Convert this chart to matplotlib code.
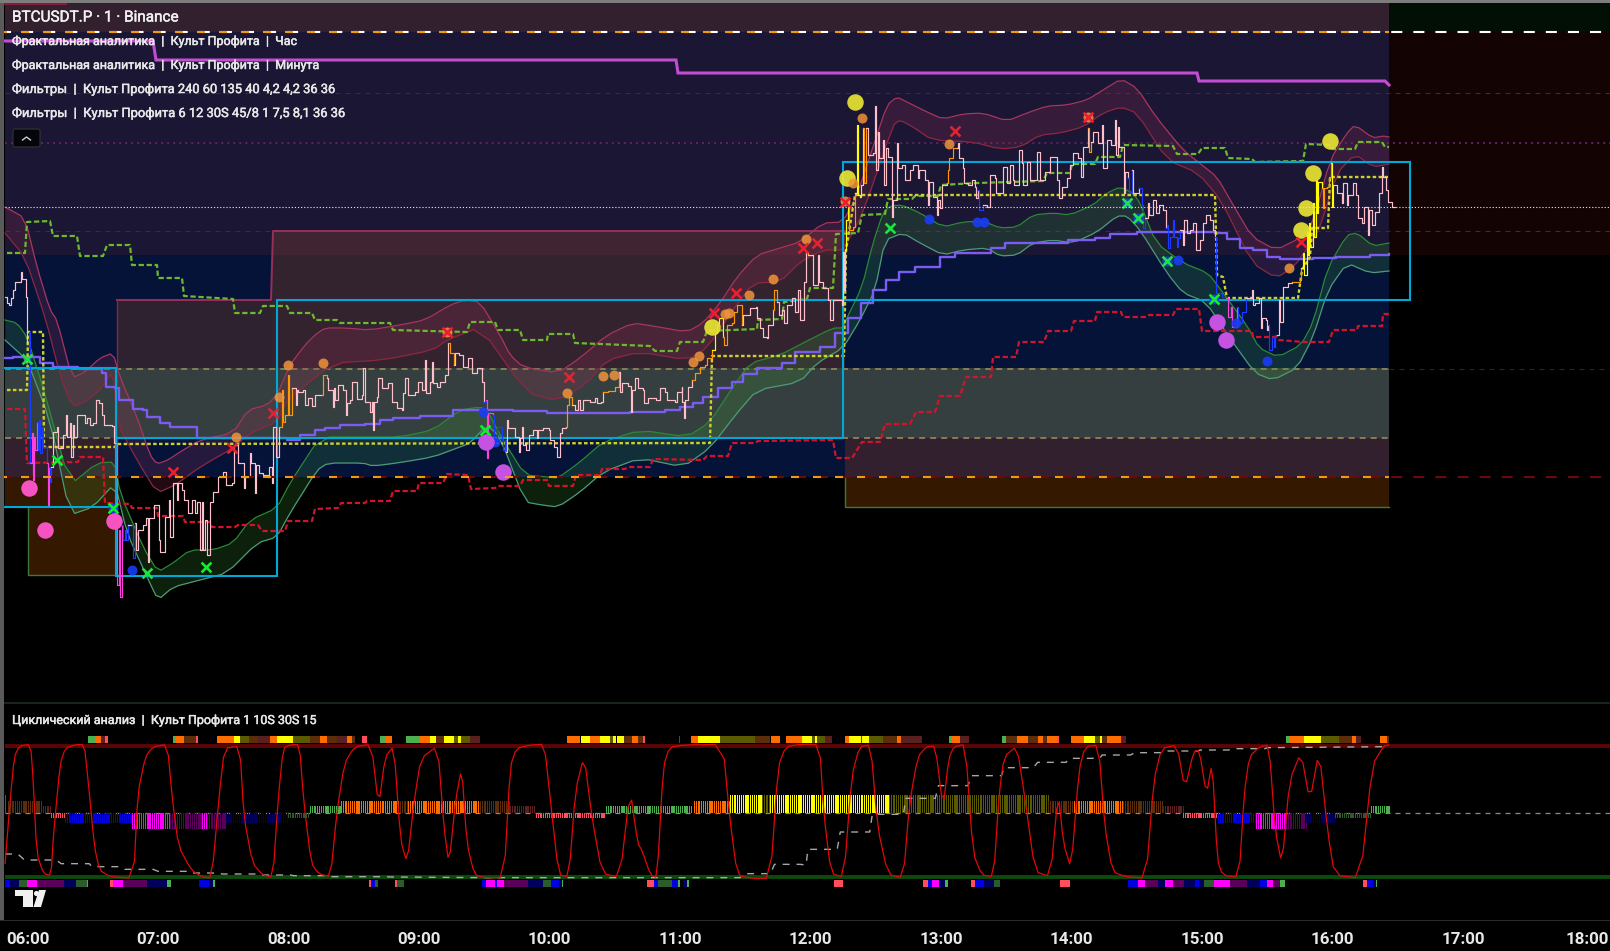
import numpy as np
import matplotlib
matplotlib.use("Agg")
import matplotlib.pyplot as plt
import matplotlib.patheffects as pe
from matplotlib.patches import Rectangle, Polygon, FancyBboxPatch

# ---------------- text ----------------
title = "BTCUSDT.P · 1 · Binance"
legend_lines = ["Фрактальная аналитика  |  Культ Профита  |  Час",
                "Фрактальная аналитика  |  Культ Профита  |  Минута",
                "Фильтры  |  Культ Профита 240 60 135 40 4,2 4,2 36 36",
                "Фильтры  |  Культ Профита 6 12 30S 45/8 1 7,5 8,1 36 36"]
osc_title = "Циклический анализ  |  Культ Профита 1 10S 30S 15"
hour_labels = ["06:00", "07:00", "08:00", "09:00", "10:00", "11:00", "12:00",
               "13:00", "14:00", "15:00", "16:00", "17:00", "18:00"]
hour_pos = [27.5, 158, 288.5, 419, 549.5, 680, 810.5, 941, 1071.5, 1202, 1332.5, 1463, 1587]

# ---------------- background zones: x0, x1, y0, y1, colour ----------------
zones = [(5, 1389, 3, 32, '#33202f'), (5, 1389, 32, 255, '#1a1633'), (5, 1389, 255, 477, '#061338'),
         (117, 272, 300, 368, '#2f2230'), (272, 845, 255, 368, '#33232f'), (272, 845, 231, 255, '#402432'),
         (5, 1389, 368, 438, '#363f3f'),
         (5, 117, 438, 477, '#33202f'), (845, 1389, 438, 477, '#33202f'),
         (5, 117, 477, 507, '#351800'), (845, 1389, 477, 507, '#351800'), (28, 117, 507, 575, '#351800'),
         (1389, 1610, 3, 32, '#020f05'), (1389, 1610, 32, 255, '#140303')]

cyan_boxes = [(3, 116, 368, 507), (116, 277, 438, 576), (277, 843, 300, 438), (843, 1410, 162, 300)]

# ---------------- slow lines ----------------
hour_line_x = [5, 153, 156, 676, 678, 1197, 1199, 1385, 1389]
hour_line_y = [41, 41, 60, 60, 73, 73, 81, 81, 85]

upper_top = [(5,207),(25,218),(37,267),(50,310),(57,320),(72,378),(85,372),(100,358),(113,353),(120,377),(137,417),(150,455),(157,464),(168,460),(180,452),(200,440),(233,433),(248,410),(267,405),(277,395),(290,365),(305,345),(315,335),(325,328),(345,328),(370,330),(400,325),(425,320),(450,305),(465,300),(480,302),(500,335),(510,355),(523,367),(558,373),(580,358),(607,335),(633,323),(653,326),(687,332),(703,323),(720,303),(737,277),(757,255),(780,248),(800,242),(823,223),(843,222),(857,195),(872,150),(887,105),(897,97),(907,102),(927,112),(943,119),(963,114),(983,113),(1007,121),(1027,113),(1047,106),(1067,105),(1087,100),(1103,90),(1121,79),(1137,88),(1156,117),(1183,150),(1202,165),(1217,177),(1232,203),(1252,237),(1276,250),(1300,238),(1313,223),(1330,160),(1347,133),(1355,125),(1373,138),(1383,136),(1389,137)]
upper_bot = [(5,233),(25,257),(46,320),(60,375),(72,407),(85,402),(100,390),(113,370),(117,423),(137,460),(157,493),(175,485),(200,467),(233,448),(250,433),(277,422),(287,400),(333,363),(383,360),(433,350),(447,340),(480,327),(527,393),(558,401),(587,383),(607,360),(640,352),(687,360),(707,348),(733,310),(753,283),(780,282),(800,262),(823,250),(843,250),(847,243),(863,213),(893,125),(900,120),(913,127),(932,140),(973,142),(1000,149),(1020,147),(1040,135),(1060,133),(1083,127),(1103,113),(1121,107),(1137,113),(1167,160),(1198,173),(1221,200),(1252,263),(1276,278),(1294,267),(1313,240),(1320,227),(1337,173),(1355,154),(1373,167),(1389,164)]
lower_top = [(5,320),(17,323),(27,337),(43,387),(70,485),(97,463),(115,462),(120,493),(143,547),(158,572),(173,563),(190,550),(213,550),(233,543),(250,520),(277,508),(290,483),(320,437),(367,437),(400,437),(433,430),(460,410),(480,407),(487,410),(503,440),(525,475),(547,477),(558,478),(580,462),(603,442),(640,430),(687,437),(710,422),(733,387),(750,363),(780,355),(805,342),(833,328),(843,328),(846,320),(862,287),(873,243),(883,213),(890,206),(902,205),(920,213),(943,227),(963,222),(983,221),(1000,228),(1017,227),(1033,215),(1053,213),(1070,215),(1093,205),(1107,193),(1120,187),(1133,193),(1140,203),(1156,243),(1183,263),(1208,273),(1221,290),(1248,327),(1259,348),(1278,357),(1301,345),(1313,323),(1328,267),(1347,235),(1357,233),(1373,246),(1389,243)]
lower_bot = [(5,340),(27,360),(50,420),(70,515),(93,507),(115,483),(127,533),(147,577),(158,600),(173,587),(200,580),(227,573),(257,543),(277,537),(290,513),(317,470),(328,463),(363,463),(373,466),(397,463),(433,457),(460,447),(470,443),(487,425),(500,437),(525,502),(542,505),(558,507),(580,492),(603,472),(640,458),(683,467),(710,448),(737,413),(757,390),(800,382),(817,363),(843,348),(860,320),(875,290),(885,240),(903,233),(920,243),(943,255),(963,250),(987,248),(1000,256),(1017,255),(1033,243),(1053,240),(1073,243),(1097,232),(1117,216),(1127,216),(1140,230),(1167,273),(1183,293),(1206,302),(1229,337),(1255,373),(1273,380),(1297,368),(1313,337),(1328,290),(1347,263),(1370,273),(1389,271)]

purple_line = [(5,358),(13,357),(40,363),(53,367),(78,369),(102,373),(106,387),(115,388),(119,400),(133,409),(143,410),(147,417),(157,417),(160,423),(170,427),(183,427),(197,438),(287,440),(300,435),(315,430),(325,428),(340,425),(365,424),(380,420),(393,418),(420,416),(453,410),(480,410),(513,411),(547,413),(580,413),(630,412),(665,410),(680,407),(693,403),(703,397),(718,388),(732,382),(743,374),(757,368),(782,363),(795,352),(820,347),(835,333),(848,318),(861,303),(873,290),(886,280),(899,272),(915,267),(940,257),(955,253),(991,248),(1005,243),(1068,240),(1095,238),(1110,234),(1137,232),(1215,233),(1227,239),(1240,248),(1253,250),(1267,257),(1280,259),(1313,258),(1336,257),(1370,255),(1389,254)]

green_dash = [(7,253),(25,253),(27,222),(50,221),(53,236),(77,236),(80,256),(103,256),(107,245),(130,245),(132,265),(157,265),(158,278),(182,278),(184,296),(233,299),(235,313),(260,313),(263,306),(287,306),(290,313),(312,313),(315,320),(337,320),(340,323),(390,323),(393,330),(467,332),(470,322),(495,322),(498,330),(520,330),(523,340),(547,340),(548,334),(573,334),(575,343),(650,346),(655,351),(677,351),(680,342),(703,342),(707,331),(757,329),(758,320),(782,319),(784,302),(807,299),(810,288),(833,288),(836,234),(858,233),(862,215),(885,214),(888,199),(912,199),(915,196),(938,196),(941,185),(977,183),(1043,181),(1047,173),(1070,173),(1072,164),(1095,164),(1098,157),(1120,157),(1123,145),(1173,146),(1177,154),(1198,154),(1202,148),(1225,148),(1228,158),(1252,159),(1255,162),(1303,161),(1306,144),(1330,145),(1333,149),(1355,149),(1358,142),(1382,142),(1385,147),(1389,147)]
yellow_dash = [(7,390),(27,390),(28,332),(43,332),(44,447),(115,447),(117,444),(710,443),(712,356),(844,356),(846,250),(855,195),(1215,195),(1217,275),(1223,277),(1227,298),(1298,298),(1302,270),(1310,257),(1312,228),(1328,228),(1330,177),(1389,177)]
red_dash = [(7,409),(25,409),(27,463),(78,462),(80,457),(103,457),(105,503),(130,504),(132,508),(157,508),(158,516),(183,516),(185,522),(210,522),(212,527),(235,527),(238,525),(258,525),(262,531),(285,531),(288,521),(312,521),(315,509),(338,508),(341,503),(365,503),(367,501),(390,501),(393,491),(417,491),(419,483),(443,483),(447,474),(468,475),(471,489),(495,488),(498,486),(520,486),(523,480),(547,480),(549,486),(573,486),(576,475),(600,475),(602,469),(625,469),(628,467),(650,467),(653,459),(703,460),(707,456),(728,456),(732,443),(755,443),(758,441),(833,440),(836,458),(852,458),(862,442),(880,442),(885,424),(910,424),(916,412),(935,412),(940,396),(960,396),(966,377),(991,377),(993,357),(1016,357),(1019,342),(1044,342),(1048,331),(1071,331),(1074,321),(1095,321),(1097,312),(1121,312),(1123,317),(1146,317),(1149,315),(1173,315),(1176,309),(1199,309),(1202,331),(1252,331),(1253,337),(1277,337),(1279,340),(1303,342),(1329,342),(1333,330),(1357,330),(1358,326),(1382,326),(1383,314),(1389,314)]

# ---------------- price path ----------------
price_pts = [(5,297),(7,303),(9,305),(11,298),(13,290),(15,282),(17,282),(21,272),(22,279),(25,279),(26,297),(27,345),(29,332),(30,463),(32,433),(32.5,480),(34,437),(34.5,450),(37,422),(37.5,450),(39,420),(39.5,453),(42,427),(42.5,447),(44,447),(47,463),(47.5,505),(49,467),(49.5,482),(51,467),(53,432),(57,427),(57.5,448),(60,448),(63,435),(66,415),(66.5,437),(70,423),(70.5,457),(73,425),(73.5,437),(77,415),(83,415),(85,423),(87,418),(90,425),(93,423),(96,400),(99,403),(102,415),(104,425),(112,426),(114,443),
(116,443),(116.5,585),(119,530),(119.5,597),(122,525),(122.5,540),(125,530),(125.5,540),(128,525),(132,525),(132.5,558),(135,523),(135.5,550),(138,530),(143,525),(146,518),(148,562),(148.5,518),(150,518),(154,505),(157,505),(159,540),(160,552),(165,517),(169,500),(169.5,537),(173,483),(177,500),(178,483),(182,490),(184,500),(188,513),(192,500),(195,513),(197,502),(200,550),(202,502),(202.5,550),(205,520),(207,555),(210,502),(213,492),(218,477),(223,472),(226,485),(232,483),(234,445),(238,463),(240,463),(244,488),(244.5,477),(250,453),(251,463),(255,493),(255.5,465),(259,473),(263,475),(268,477),(268.5,467),(272,483),(272.5,473),(273,427),(276,457),
(279,427),(282,390),(282.5,422),(285,415),(288,375),(288.5,415),(292,388),(296,405),(296.5,390),(298,392),(303,390),(305,405),(308,398),(312,406),(315,395),(322,395),(323,375),(327,378),(328,390),(333,407),(333.5,388),(335,400),(338,385),(343,390),(346,415),(346.5,403),(350,400),(352,382),(357,399),(362,395),(362.5,368),(365,402),(370,412),(372,402),(373,430),(373.5,402),(377,397),(378,378),(382,388),(388,383),(392,402),(397,408),(402,410),(402.5,393),(405,378),(408,395),(415,392),(418,382),(422,390),(425,360),(425.5,393),(430,382),(432,362),(432.5,383),(437,387),(440,382),(445,375),(448,343),(450,353),(454,365),(454.5,353),(459,355),(463,367),(468,358),(472,373),(477,368),(482,382),(484,402),(486,400),(486.5,458),(488,413),(493,415),(493.5,440),(497,427),(502,440),(502.5,450),(505,440),(506,452),(506.5,420),(508,428),(513,428),(515,437),(519,452),(519.5,438),(522,427),(522.5,445),(525,443),(525.5,450),(528,450),(528.5,435),(533,430),(537,438),(537.5,430),(543,428),(549,430),(550,440),(554,447),(557,457),(560,433),(562,428),(566,427),(567,405),(569,397),(572,405),(575,410),(578,400),(580,410),(583,400),(590,402),(595,398),(597,403),(601,402),(603,392),(608,391),(615,387),(619,372),(619.5,392),(622,383),(628,386),(631,412),(631.5,390),(635,378),(638,388),(643,390),(644,403),(648,398),(656,400),(660,388),(665,392),(667,400),(675,402),(677,392),(681,392),(681.5,387),(682,402),(684,418),(684.5,400),(688,387),(692,380),(695,373),(700,367),(705,365),(707,358),(712,350),(715,333),(717,325),(719,318),(723,337),(723.5,345),(727,325),(732,323),(734,312),(737,305),(742,325),(742.5,315),(748,315),(750,308),(756,307),(757,318),(760,328),(763,337),(767,338),(768,325),(773,310),(773.5,290),(777,302),(779,315),(782,310),(784,323),(787,305),(792,298),(795,312),(798,290),(800,320),(804,282),(806,252),(808,255),(813,285),(818,255),(819,282),(823,288),(828,300),(830,320),(833,300),(838,300),(842,305),
(843,252),(843.5,290),(845,250),(845.5,220),(848,200),(848.5,230),(853,227),(855,193),(857,125),(857.5,195),(860,197),(860.5,185),(863,128),(863.5,183),(866,128),(868,155),(873,153),(875,106),(875.5,170),(878,132),(878.5,158),(883,140),(883.5,185),(886,148),(888,157),(892,217),(892.5,200),(897,143),(897.5,168),(902,165),(905,180),(910,170),(913,165),(918,178),(918.5,170),(925,180),(928,205),(928.5,182),(933,197),(937,215),(937.5,200),(940,208),(942,185),(947,183),(948,170),(948.5,158),(953,148),(957,148),(957.5,143),(959,158),(963,168),(963.5,183),(968,185),(972,180),(975,187),(975.5,198),(978,190),(978.5,210),(983,205),(987,207),(990,175),(995,178),(995.5,193),(1003,167),(1007,183),(1010,165),(1013,180),(1013.5,185),(1019,150),(1022,163),(1022.5,185),(1027,162),(1030,180),(1037,152),(1040,180),(1045,172),(1050,157),(1055,157),(1057,180),(1059,198),(1062,187),(1067,178),(1070,165),(1073,153),(1078,158),(1081,177),(1083,147),(1088,128),(1088.5,152),(1091,142),(1093,132),(1098,143),(1102,125),(1102.5,168),(1107,140),(1111,145),(1115,120),(1115.5,155),(1118,127),(1118.5,147),(1123,147),(1124,193),(1124.5,172),(1128,178),(1128.5,192),(1132,170),(1132.5,193),(1136,193),(1139,188),(1142,205),(1142.5,228),(1145,218),(1148,203),(1148.5,215),(1153,200),(1156,213),(1159,205),(1163,210),(1166,228),(1167,225),(1167.5,248),(1170,237),(1173,220),(1173.5,237),(1177,247),(1177.5,238),(1180,230),(1183,245),(1183.5,220),(1187,233),(1190,230),(1193,223),(1196,250),(1200,240),(1203,223),(1206,215),(1210,220),(1213,230),(1215,237),(1215.5,273),(1216,293),(1218,293),(1222,297),(1227,298),(1227.5,317),(1231,307),(1231.5,327),(1237,307),(1237.5,323),(1241,323),(1241.5,312),(1246,298),(1252,290),(1252.5,305),(1255,303),(1259,298),(1261,328),(1261.5,318),(1266,320),(1266.5,330),(1268,325),(1268.5,350),(1272,337),(1274,347),(1274.5,335),(1277,335),(1279,300),(1279.5,322),(1283,287),(1288,283),(1292,282),(1300,280),(1301,268),(1303,253),(1303.5,275),(1307,232),(1307.5,255),(1309,223),(1309.5,247),(1313,203),(1313.5,237),(1316,180),(1316.5,213),(1318,182),(1322,188),(1323,208),(1323.5,188),(1327,187),(1329,177),(1331,163),(1331.5,207),(1333,185),(1337,193),(1340,193),(1342,203),(1342.5,183),(1347,205),(1348,195),(1353,183),(1356,195),(1358,218),(1362,223),(1364,207),(1368,235),(1368.5,210),(1372,225),(1375,212),(1379,193),(1382,167),(1382.5,177),(1385,177),(1385.5,190),(1388,202),(1392,207),(1395,207)]

PINK, BLUE, MAG, ORG, YEL = '#ffc0cb', '#1a3cff', '#ff40e0', '#ff9800', '#ffff00'
price_runs = [(27,30,BLUE),(30,36,MAG),(36,46,BLUE),(46,49,MAG),(49,51,BLUE),(116,121,MAG),(121,127,BLUE),(131,134,BLUE),
              (279,290,ORG),(322,325,ORG),(447,452,ORG),(484,486,BLUE),(486,490,MAG),(490,506,BLUE),(566,570,ORG),(602,617,ORG),
              (690,712,ORG),(712,720,YEL),(720,740,ORG),(772,776,ORG),(805,808,ORG),(845,848,YEL),(848,855,ORG),(855,858,YEL),
              (862,866,ORG),(946,956,ORG),(976,980,BLUE),(1086,1091,ORG),(1125,1130,BLUE),(1137,1145,BLUE),(1166,1180,BLUE),
              (1214,1224,BLUE),(1224,1232,MAG),(1232,1243,BLUE),(1267,1276,BLUE),(1292,1301,ORG),(1301,1320,YEL),(1320,1330,ORG),(1330,1333,YEL)]

# ---------------- markers ----------------
yellow_dots = [(855,102),(847,178),(1330,141),(1313,173),(1306,208),(1301,230),(712,327)]
orange_dots = [(288,365),(323,363),(279,397),(236,437),(567,393),(603,376),(614,375),(693,362),(699,356),(725,314),(729,313),(749,295),(773,279),(806,239),(862,118),(949,144),(1088,117),(1289,268),(853,183),(845,201),(447,332)]
blue_dots = [(132,570),(113,508),(483,412),(495,442),(929,219),(977,222),(984,222),(1178,260),(1236,323),(1267,361),(1167,261),(1127,203),(1138,218),(1214,299)]
pink_dots = [(29,488),(45,530),(114,521)]
violet_dots = [(486,442),(503,472),(1217,322),(1226,340)]
red_marks = [(173,472),(232,448),(273,413),(447,332),(569,377),(714,313),(736,293),(803,248),(817,243),(955,131),(1088,117),(845,202),(1301,242)]
green_marks = [(27,359),(57,460),(113,508),(147,573),(206,567),(485,430),(890,228),(1127,203),(1138,218),(1167,261),(1214,299)]

# ---------------- oscillator pane ----------------
osc_a = [(10,490),(20,300),(28,170),(38,138),(60,133),(65,240),(72,460),(85,520),(100,527),(105,400),(118,190),(128,145),(145,135),(165,133),(172,230),(185,440),(195,510),(215,530),(262,535),(270,280),(285,170),(300,140),(328,133),(338,300),(350,440),(375,510),(395,530),(415,535),(430,280),(440,145),(470,138),(478,350),(495,490),(515,525),(535,532),(545,300),(555,145),(568,135),(587,133),(595,300),(610,490),(625,522),(648,530),(660,340),(675,190),(695,140),(728,133),(742,320),(755,170),(772,138),(785,420),(798,490),(812,300),(825,175),(858,137),(870,380),(880,495),(893,300),(905,202),(915,430),(930,525),(950,533),(988,533),(1000,200),(1012,145),(1040,135),(1067,133),(1078,290),(1095,525),(1115,530),(1128,270),(1145,167),(1160,350),(1180,520),(1215,532),(1235,268),(1250,430),(1258,450),(1275,525),(1288,533),(1300,200),(1312,142),(1340,135),(1417,133),(1430,350),(1445,525),(1470,535),(1510,535),(1525,200),(1540,140),(1568,133)]
osc_b = [(38,133),(46,340),(60,520),(85,532),(100,230),(115,140),(137,135),(150,380),(170,522),(200,535),(212,310),(228,170),(245,140),(262,138),(277,325),(288,175),(298,140),(320,133),(335,460),(352,525),(375,530),(385,290),(395,170),(420,138),(435,290),(455,515),(485,530),(500,275),(510,430),(525,507),(540,210),(552,140),(578,135),(590,380),(605,515),(630,530),(670,535),(685,240),(700,145),(730,135),(745,268),(762,155),(773,150),(787,285),(798,185),(808,480),(818,525),(850,533),(860,280),(870,170),(890,140),(908,135),(920,390),(933,495),(948,240),(970,157),(987,305),(1005,150),(1022,400),(1035,525),(1085,535),(1108,195),(1130,138),(1140,135)]
trend_a = [(10,462),(35,462),(48,480),(110,480),(120,491),(175,491),(180,500),(235,500),(245,508),(300,508),(310,514),(365,514),(370,519),(430,519),(435,522),(500,522),(505,525),(570,525),(575,527),(640,527),(650,530),(750,530),(770,531),(950,533),(1450,533),(1465,521),(1510,521),(1518,493),(1568,493)]
trend_b = [(12,495),(15,448),(72,448),(78,396),(135,396),(140,343),(200,343),(205,295),(262,295),(268,257),(325,257),(332,227),(390,227),(395,203),(452,203),(460,187),(515,187),(522,175),(580,175),(585,165),(640,165),(648,158),(705,158),(712,153),(770,153),(775,150),(830,150),(835,146),(900,146),(905,143),(1140,140)]

Y, OL, O, BR, DR, SA, B, NV, M, PU, DG, G = ('#ffff00', '#5a5a00', '#ff6d00', '#5c2d0a', '#5a1f1f', '#ff4d5e',
                                             '#0000e0', '#00005c', '#ff00ff', '#5a005a', '#2b5c2b', '#4caf50')
hist_runs = [(5,7,795,OL),(8,42,801,BR),(43,51,806,DR),(51,65,818,SA),(65,132,823,B),(132,170,829,M),(170,202,829,PU),(202,207,829,M),(207,226,829,PU),
             (226,288,823,NV),(288,309,818,DG),(310,341,806,G),(341,400,801,O),(400,408,801,BR),(408,480,801,O),(480,510,801,BR),(510,536,806,DR),(536,605,818,SA),
             (606,693,806,G),(694,730,801,O),(730,762,795,Y),(762,770,795,OL),(770,889,795,Y),(889,1048,795,OL),(1048,1074,801,BR),(1074,1123,801,O),
             (1123,1163,801,BR),(1163,1183,806,DR),(1183,1218,818,SA),(1218,1256,823,B),(1256,1286,829,M),(1286,1306,829,PU),(1306,1335,823,NV),(1335,1370,818,DG),(1371,1389,806,G)]
top_strip = [(88,95,G),(95,101,O),(101,105,DR),(105,108,SA),(173,176,G),(176,184,O),(184,196,BR),(196,198,SA),
             (217,234,O),(234,240,Y),(240,249,OL),(249,258,BR),(258,270,DR),(270,277,O),(277,293,Y),(293,310,OL),(310,320,BR),(320,327,O),(327,337,BR),(337,347,DR),(347,352,O),(352,355,BR),(362,367,SA),
             (380,385,G),(385,392,O),(406,420,G),(420,430,O),(430,436,Y),(436,444,BR),(444,454,Y),(454,458,OL),(458,461,Y),(461,470,OL),(470,480,DR),
             (567,580,O),(581,590,Y),(590,600,O),(600,610,Y),(610,613,OL),(613,616,Y),(617,624,Y),(624,632,BR),(632,638,O),(638,643,BR),(643,645,SA),
             (679,680,DG),(691,698,O),(698,720,Y),(720,734,OL),(734,755,OL),(755,770,BR),(771,780,O),(786,802,O),(802,812,Y),(812,815,OL),(815,817,Y),(817,825,OL),(825,832,DR),
             (845,849,O),(849,861,Y),(861,862,OL),(862,869,Y),(869,883,OL),(883,897,BR),(897,901,O),(901,922,DR),
             (949,952,G),(952,960,O),(960,969,DR),(1002,1006,G),(1006,1017,BR),(1017,1028,O),(1028,1038,BR),(1038,1043,O),(1043,1047,BR),(1047,1057,O),(1057,1059,SA),
             (1071,1084,O),(1084,1095,Y),(1095,1100,OL),(1100,1102,Y),(1102,1107,BR),(1107,1121,O),(1121,1126,DR),
             (1286,1290,G),(1290,1304,O),(1304,1321,Y),(1321,1339,OL),(1339,1352,BR),(1352,1356,O),(1356,1361,DR),(1380,1387,O),(1387,1389,BR)]
bottom_strip = [(5,10,B),(10,19,NV),(19,27,DG),(27,37,M),(37,64,PU),(64,76,NV),(76,87,DG),(87,88,G),
                (110,113,SA),(113,123,M),(123,147,PU),(147,167,NV),(167,171,G),(199,209,B),(209,213,NV),(213,215,G),
                (369,371,SA),(371,375,B),(375,378,DG),(395,397,SA),(397,404,DG),
                (482,486,B),(486,495,M),(495,497,B),(497,504,M),(504,528,PU),(528,543,NV),(543,551,DG),(551,559,B),(559,562,NV),(562,563,G),
                (647,654,SA),(654,658,B),(658,672,DG),(672,678,B),(678,680,G),(683,687,NV),(687,689,G),
                (834,843,SA),(923,928,SA),(928,932,B),(932,939,M),(939,945,NV),(945,948,G),
                (971,975,SA),(975,984,B),(984,994,NV),(994,1000,DG),(1060,1070,SA),
                (1128,1138,B),(1138,1145,M),(1145,1158,PU),(1158,1165,NV),(1165,1173,M),(1173,1184,PU),(1184,1195,NV),(1195,1199,B),(1199,1204,NV),(1204,1214,DG),
                (1214,1230,M),(1230,1247,PU),(1247,1260,NV),(1260,1267,B),(1267,1273,M),(1273,1280,PU),(1280,1285,G),
                (1363,1367,SA),(1367,1373,B),(1373,1376,NV),(1376,1377,G)]

# ---------------- figure ----------------
fig = plt.figure(figsize=(16.10, 9.51), dpi=100, facecolor='black')
ax = fig.add_axes([0, 31/951, 1, 920/951], facecolor='black')
ax.set_xlim(0, 1610)
ax.set_ylim(920, 0)
for s in ax.spines.values():
    s.set_visible(False)
ax.spines['bottom'].set_visible(True)
ax.spines['bottom'].set_color('#2a2a2a')
ax.set_yticks([])
ax.set_xticks(hour_pos)
ax.set_xticklabels(hour_labels, fontfamily='Roboto', fontweight='bold', fontsize=12.2, color='#e8e8e8')
ax.tick_params(axis='x', length=0, pad=9)

def xy(pts):
    a = np.array(pts, dtype=float)
    return a[:, 0], a[:, 1]

def rounded(x, y, n=1):
    """Corner rounding of the drawn line only (the curve's look in the picture)."""
    x, y = np.asarray(x, float), np.asarray(y, float)
    for _ in range(n):
        qx = np.c_[0.8*x[:-1]+0.2*x[1:], 0.2*x[:-1]+0.8*x[1:]].ravel()
        qy = np.c_[0.8*y[:-1]+0.2*y[1:], 0.2*y[:-1]+0.8*y[1:]].ravel()
        x = np.r_[x[0], qx, x[-1]]
        y = np.r_[y[0], qy, y[-1]]
    return x, y

for x0, x1, y0, y1, c in zones:
    ax.add_patch(Rectangle((x0, y0), x1-x0, y1-y0, fc=c, ec='none', zorder=1))

# static horizontal levels
kw = dict(zorder=2, solid_capstyle='butt', dash_capstyle='butt')
ax.plot([5, 1610], [93, 93], color='#5e1a3a', lw=0.8, ls=(0, (4.5, 4.5)), **kw)
ax.plot([5, 1610], [143, 143], color='#5f2266', lw=1.4, ls=(0, (1.03, 2.06)), **kw)
ax.plot([5, 1610], [231, 231], color='#5e1a3a', lw=0.8, ls=(0, (4.5, 4.5)), **kw)
ax.plot([5, 1389], [368.5, 368.5], color='#8d8355', lw=1.3, ls=(0, (3.3, 2.8)), **kw)
ax.plot([1389, 1610], [369, 369], color='#5e1010', lw=0.8, ls=(0, (4.5, 4.5)), **kw)
ax.plot([5, 1389], [438, 438], color='#8d8355', lw=1.3, ls=(0, (3.3, 2.8)), **kw)
ax.plot([117, 271, 273, 845], [300, 300, 231, 231], color='#96305a', lw=1.4, zorder=2)
ax.plot([117, 117], [300, 477], color='#7a2a48', lw=1, zorder=2)
ax.plot([28, 28, 117], [507, 575, 575], color='#3c7a3c', lw=1, zorder=2)
ax.plot([845, 845, 1389], [477, 507, 507], color='#3c7a3c', lw=1, zorder=2)

# bands
ux, uy = rounded(*xy(upper_top)); vx, vy = rounded(*xy(upper_bot))
grid = np.union1d(ux, vx)
ax.fill_between(grid, np.interp(grid, ux, uy), np.interp(grid, vx, vy), color='#a03055', alpha=0.21, lw=0, zorder=3)
ax.plot(ux, uy, color='#a8355f', lw=0.9, zorder=3)
ax.plot(vx, vy, color='#8c2740', lw=0.9, zorder=3)
gx, gy = rounded(*xy(lower_top)); hx, hy = rounded(*xy(lower_bot))
grid = np.union1d(gx, hx)
ax.fill_between(grid, np.interp(grid, gx, gy), np.interp(grid, hx, hy), color='#3a9a3a', alpha=0.21, lw=0, zorder=3)
ax.plot(gx, gy, color='#2a8a35', lw=0.9, zorder=3)
ax.plot(hx, hy, color='#4d9a78', lw=0.9, zorder=3)

# cyan boxes
for x0, x1, y0, y1 in cyan_boxes:
    ax.add_patch(Rectangle((x0, y0), x1-x0, y1-y0, fc='none', ec='#00a8d8', lw=1.5, zorder=6))

# step lines
ax.plot(hour_line_x, hour_line_y, color='#c44cd0', lw=2.2, zorder=5, solid_joinstyle='miter')
ax.plot(*xy(purple_line), color='#7b5cf0', lw=1.7, zorder=5, drawstyle='steps-post')
ax.plot(*xy(green_dash), color='#6db82e', lw=1.6, ls=(0, (2.4, 1.2)), zorder=5, dash_capstyle='butt')
ax.plot(*xy(yellow_dash), color='#cfcf30', lw=1.7, ls=(0, (1.5, 1.0)), zorder=5, dash_capstyle='butt')
ax.plot(*xy(red_dash), color='#d0142c', lw=1.6, ls=(0, (2.4, 1.2)), zorder=5, dash_capstyle='butt')

# price path split by colour
px, py = xy(price_pts)
def colour_of(v):
    for a, b, c in price_runs:
        if a <= v < b:
            return c
    return PINK
cols = [colour_of(v) for v in px]
start = 0
for i in range(1, len(px)):
    if cols[i] != cols[start] or i == len(px)-1:
        ax.plot(px[start:i+1], py[start:i+1], drawstyle='steps-post', color=cols[start], lw=0.85, zorder=7)
        start = i

# markers
def scat(pts, col, d, alpha=1.0, z=8):
    x, y = xy(pts)
    ax.scatter(x, y, s=(d*0.72)**2, color=col, alpha=alpha, linewidths=0, zorder=z)
scat(yellow_dots, '#e8e434', 16.5, 0.92)
scat(orange_dots, '#f0943a', 10, 0.85)
scat(blue_dots, '#1a3cf5', 10, 0.9)
scat(pink_dots, '#f552c2', 16.5)
scat(violet_dots, '#c552e0', 16.5)
x, y = xy(red_marks); ax.scatter(x, y, marker='x', s=50, color='#e8202f', linewidths=1.9, zorder=9)
x, y = xy(green_marks); ax.scatter(x, y, marker='x', s=50, color='#18e838', linewidths=1.9, zorder=9)

# top and bottom long dashes
long = dict(lw=1.5, zorder=9, solid_capstyle='butt', dash_capstyle='butt')
ax.plot([0, 1610], [32, 32], color='#ffffff', ls=(0, (5.3, 5.3)), **long)
ax.plot([14.3-22, 1389], [32, 32], color='#f09a10', ls=(0, (3.84, 6.72)), **long)
ax.plot([0, 1610], [477, 477], color='#6a0a0a', ls=(0, (5.3, 5.3)), **long)
ax.plot([14.3-22, 1389], [477, 477], color='#f09a10', ls=(0, (3.84, 6.72)), **long)
ax.plot([5, 1610], [207, 207], color='#f0d0e8', lw=0.8, ls=(0, (1.1, 1.7)), zorder=9)

# chrome
ax.plot([5, 66], [4, 4], color='#8a1c3a', lw=1.5, zorder=10)
ax.add_patch(Rectangle((0, 0), 4, 920, fc='#5a5a5a', ec='none', zorder=20))
ax.add_patch(Rectangle((0, 0), 1610, 3, fc='#7d7d7d', ec='none', zorder=20))
ax.add_patch(FancyBboxPatch((13, 129), 27, 18, boxstyle='round,pad=0,rounding_size=2', fc='#05060c', ec='#333333', lw=0.8, zorder=11))
ax.plot([22.5, 26.5, 30.5], [140, 137, 140], color='#cccccc', lw=1, zorder=12)
ax.plot([0, 1610], [703, 703], color='#1c2a1f', lw=1.3, zorder=2)

# texts
bold_fx = [pe.withStroke(linewidth=0.35, foreground='#e8e8e8')]
ax.text(12, 17.5, title, color='#f0f0f0', fontsize=11.0, family='Roboto', va='center', zorder=15, path_effects=bold_fx)
for t, yy, fs in zip(legend_lines, [41.5, 65.5, 89.5, 113.5], [9.0, 9.0, 9.25, 9.28]):
    ax.text(12, yy, t, color='#e8e8e8', fontsize=fs, family='Roboto', va='center', zorder=15, path_effects=bold_fx)
ax.text(12, 720.5, osc_title, color='#e8e8e8', fontsize=9.0, family='Roboto', va='center', zorder=15, path_effects=bold_fx)

# oscillator pane
ax.plot([5, 1610], [745.7, 745.7], color='#5c0505', lw=2.8, zorder=3, solid_capstyle='butt')
ax.plot([5, 1610], [876.7, 876.7], color='#0b4a0b', lw=2.8, zorder=3, solid_capstyle='butt')
ax.plot([5, 1610], [812.5, 812.5], color='#a08088', lw=0.9, ls=(0, (4, 4)), zorder=4)
for a, b, top, c in hist_runs:
    xs = np.arange(a, b, 2.175)
    ax.bar(xs, np.full(xs.shape, top-812.5), bottom=812.5, width=1.3, color=c, align='edge', lw=0, zorder=4)
for a, b, c in top_strip:
    ax.add_patch(Rectangle((a, 736), b-a, 7.3, fc=c, ec='none', zorder=4))
for a, b, c in bottom_strip:
    ax.add_patch(Rectangle((a, 880), b-a, 6.7, fc=c, ec='none', zorder=4))
oa_x, oa_y = xy(osc_a); ob_x, ob_y = xy(osc_b)
osc_x = np.r_[oa_x/1.96, 800+ob_x/1.936]
osc_y = np.r_[700+oa_y/3, 700+ob_y/3]
ax.plot(*rounded(osc_x, osc_y), color='#e00808', lw=0.9, zorder=6)
ta_x, ta_y = xy(trend_a); tb_x, tb_y = xy(trend_b)
ax.plot(np.r_[ta_x/1.96, 800+tb_x/1.936], np.r_[700+ta_y/3, 700+tb_y/3], color='#a8a8a8', lw=1, ls=(0, (5, 5)), zorder=5)

# chart-brand logo
ax.add_patch(Polygon([(15, 890), (33, 890), (33, 907), (23, 907), (23, 896), (15, 896)], fc='#f0f0f0', ec='none', zorder=15))
ax.add_patch(Polygon([(39, 890), (46, 890), (41, 907), (33.5, 907)], fc='#f0f0f0', ec='none', zorder=15))
ax.scatter([36], [893], s=14, color='#f0f0f0', linewidths=0, zorder=15)

fig.savefig('out.png', dpi=100, facecolor='black')
